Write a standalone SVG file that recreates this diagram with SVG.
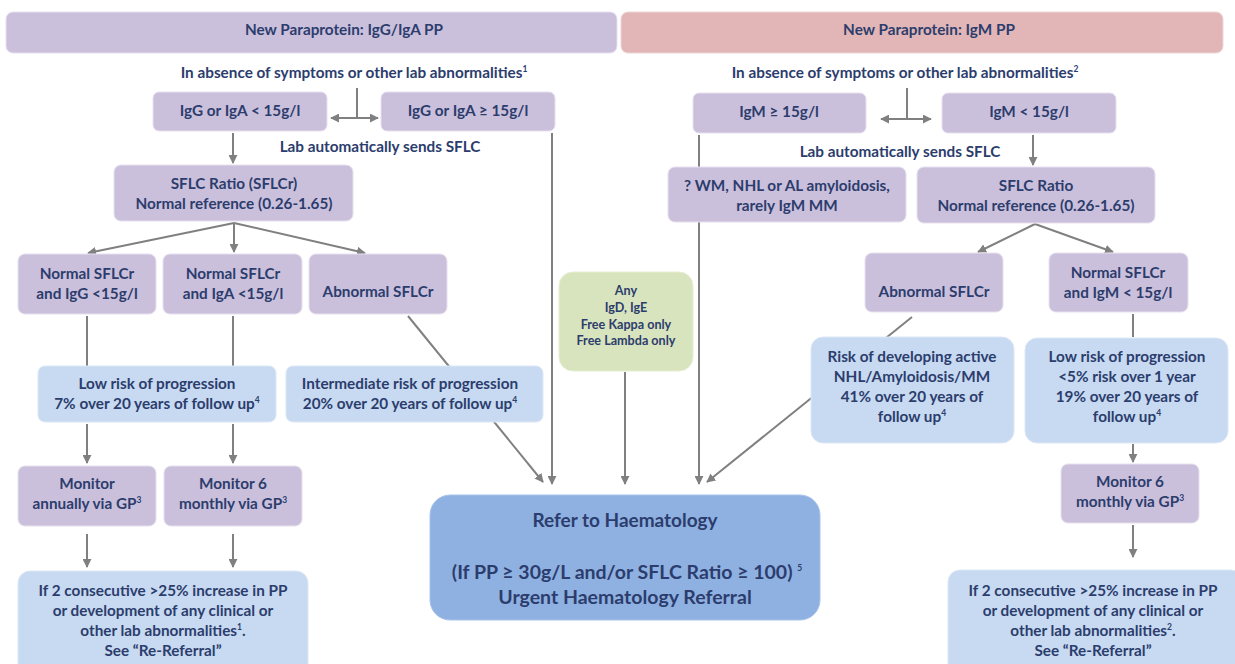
<svg xmlns="http://www.w3.org/2000/svg" width="1235" height="664" viewBox="0 0 1235 664">
<style>
.p{fill:#cbc0dc;stroke:#e6e0ef;stroke-width:1}
.k{fill:#e2b6b6;stroke:#eed6d6;stroke-width:1}
.b{fill:#c7daf1;stroke:#dde8f6;stroke-width:1}
.g{fill:#d8e4bd;stroke:#e6eed3;stroke-width:1}
.r{fill:#8fb1e2;stroke:#a9c3ea;stroke-width:1}
text{font-family:Lato,"Open Sans","Liberation Sans",sans-serif;font-weight:bold;font-size:15.3px;fill:#2c3d6d;text-anchor:middle}
.s{font-size:12.6px}
.big{font-size:19px}
.mid{font-size:19.5px}
.c{stroke:#808080;stroke-width:2;fill:none}
.a{marker-end:url(#ah)}
.aa{marker-start:url(#ah);marker-end:url(#ah)}
</style>
<defs>
<marker id="ah" viewBox="0 0 10 10" refX="9" refY="5" markerWidth="9" markerHeight="9" markerUnits="userSpaceOnUse" orient="auto-start-reverse">
<path d="M0,0 L10,5 L0,10 z" fill="#808080"/>
</marker>
</defs>
<rect width="1235" height="664" fill="#ffffff"/>
<g id="connectors">
<line class="c" x1="357" y1="88" x2="357" y2="118"/>
<line class="c aa" x1="331" y1="118" x2="378" y2="118"/>
<line class="c a" x1="233" y1="133" x2="233" y2="163"/>
<line class="c a" x1="234" y1="223" x2="88" y2="253"/>
<line class="c a" x1="234" y1="223" x2="234" y2="252"/>
<line class="c a" x1="234" y1="223" x2="365" y2="253"/>
<line class="c" x1="87" y1="316" x2="87" y2="366"/>
<line class="c" x1="233" y1="316" x2="233" y2="366"/>
<line class="c a" x1="408" y1="316" x2="543" y2="482"/>
<line class="c a" x1="87" y1="424" x2="87" y2="463"/>
<line class="c a" x1="233" y1="424" x2="233" y2="463"/>
<line class="c a" x1="87" y1="534" x2="87" y2="567"/>
<line class="c a" x1="233" y1="534" x2="233" y2="567"/>
<line class="c a" x1="552" y1="133" x2="552" y2="484"/>
<line class="c a" x1="625" y1="372" x2="625" y2="484"/>
<line class="c a" x1="699" y1="135" x2="699" y2="484"/>
<line class="c a" x1="912" y1="317" x2="707" y2="482"/>
<line class="c" x1="907" y1="88" x2="907" y2="119"/>
<line class="c aa" x1="881" y1="119" x2="931" y2="119"/>
<line class="c a" x1="1033" y1="135" x2="1033" y2="165"/>
<line class="c a" x1="1035" y1="224" x2="978" y2="252"/>
<line class="c a" x1="1035" y1="224" x2="1113" y2="252"/>
<line class="c" x1="1133" y1="314" x2="1133" y2="337"/>
<line class="c a" x1="1133" y1="444" x2="1133" y2="462"/>
<line class="c a" x1="1133" y1="525" x2="1133" y2="557"/>
</g>
<g id="top-igg"><rect class="p" x="6" y="12" width="611" height="41" rx="7"/><text x="344" y="35">New Paraprotein: IgG/IgA PP</text></g>
<g id="top-igm"><rect class="k" x="621" y="12" width="602" height="41" rx="7"/><text x="929" y="35">New Paraprotein: IgM PP</text></g>
<g id="label-absence-1"><text x="354" y="78">In absence of symptoms or other lab abnormalities<tspan font-size="8.5" dy="-6">1</tspan></text></g>
<g id="label-absence-2"><text x="905" y="78">In absence of symptoms or other lab abnormalities<tspan font-size="8.5" dy="-6">2</tspan></text></g>
<g id="igg-lt"><rect class="p" x="153" y="92" width="174" height="39" rx="6"/><text x="240" y="116">IgG or IgA &lt; 15g/l</text></g>
<g id="igg-ge"><rect class="p" x="381" y="92" width="174" height="39" rx="6"/><text x="468" y="116">IgG or IgA ≥ 15g/l</text></g>
<g id="label-lab-1"><text x="380" y="152">Lab automatically sends SFLC</text></g>
<g id="sflc-left"><rect class="p" x="114" y="165" width="239" height="56" rx="7"/><text x="234" y="189">SFLC Ratio (SFLCr)</text><text x="234" y="209">Normal reference (0.26-1.65)</text></g>
<g id="normal-igg"><rect class="p" x="18" y="254" width="138" height="60" rx="7"/><text x="87" y="279">Normal SFLCr</text><text x="87" y="299">and IgG &lt;15g/l</text></g>
<g id="normal-iga"><rect class="p" x="163" y="254" width="139" height="60" rx="7"/><text x="233" y="279">Normal SFLCr</text><text x="233" y="299">and IgA &lt;15g/l</text></g>
<g id="abnormal-left"><rect class="p" x="309" y="254" width="138" height="60" rx="7"/><text x="378" y="297">Abnormal SFLCr</text></g>
<g id="low-risk-left"><rect class="b" x="38" y="366" width="238" height="56" rx="7"/><text x="157" y="389">Low risk of progression</text><text x="157" y="409">7% over 20 years of follow up<tspan font-size="8.5" dy="-6">4</tspan></text></g>
<g id="intermediate-risk"><rect class="b" x="286" y="366" width="257" height="56" rx="7"/><text x="410" y="389">Intermediate risk of progression</text><text x="410" y="409">20% over 20 years of follow up<tspan font-size="8.5" dy="-6">4</tspan></text></g>
<g id="monitor-annual"><rect class="p" x="18" y="466" width="138" height="60" rx="7"/><text x="87" y="489">Monitor</text><text x="87" y="509">annually via GP<tspan font-size="8.5" dy="-6">3</tspan></text></g>
<g id="monitor-6-left"><rect class="p" x="164" y="466" width="138" height="60" rx="7"/><text x="233" y="489">Monitor 6</text><text x="233" y="509">monthly via GP<tspan font-size="8.5" dy="-6">3</tspan></text></g>
<g id="rereferral-left"><rect class="b" x="18" y="571" width="290" height="110" rx="12"/><text x="163" y="596">If 2 consecutive &gt;25% increase in PP</text><text x="163" y="616">or development of any clinical or</text><text x="163" y="636">other lab abnormalities<tspan font-size="8.5" dy="-6">1</tspan><tspan dy="6">.</tspan></text><text x="163" y="656">See “Re-Referral”</text></g>
<g id="other-types"><rect class="g" x="559" y="272" width="134" height="99" rx="14"/><text class="s" x="626" y="295">Any</text><text class="s" x="626" y="312">IgD, IgE</text><text class="s" x="626" y="329">Free Kappa only</text><text class="s" x="626" y="345">Free Lambda only</text></g>
<g id="refer-haematology"><rect class="r" x="430" y="495" width="390" height="125" rx="20"/><text class="big" x="625" y="527">Refer to Haematology</text><text class="mid" x="627" y="579">(If PP ≥ 30g/L and/or SFLC Ratio ≥ 100) <tspan font-size="8.5" dy="-8">5</tspan></text><text class="mid" x="625" y="604">Urgent Haematology Referral</text></g>
<g id="igm-ge"><rect class="p" x="693" y="93" width="173" height="40" rx="6"/><text x="779" y="117">IgM ≥ 15g/l</text></g>
<g id="igm-lt"><rect class="p" x="942" y="93" width="174" height="40" rx="6"/><text x="1029" y="117">IgM &lt; 15g/l</text></g>
<g id="label-lab-2"><text x="900" y="157">Lab automatically sends SFLC</text></g>
<g id="wm-nhl"><rect class="p" x="668" y="167" width="238" height="55" rx="7"/><text x="787" y="191">? WM, NHL or AL amyloidosis,</text><text x="787" y="211">rarely IgM MM</text></g>
<g id="sflc-right"><rect class="p" x="917" y="167" width="238" height="56" rx="7"/><text x="1036" y="191">SFLC Ratio</text><text x="1036" y="211">Normal reference (0.26-1.65)</text></g>
<g id="abnormal-right"><rect class="p" x="865" y="253" width="138" height="59" rx="7"/><text x="934" y="297">Abnormal SFLCr</text></g>
<g id="normal-igm"><rect class="p" x="1049" y="253" width="139" height="59" rx="7"/><text x="1118" y="278">Normal SFLCr</text><text x="1118" y="298">and IgM &lt; 15g/l</text></g>
<g id="risk-active"><rect class="b" x="811" y="337" width="203" height="106" rx="12"/><text x="912" y="362">Risk of developing active</text><text x="912" y="382">NHL/Amyloidosis/MM</text><text x="912" y="402">41% over 20 years of</text><text x="912" y="422">follow up<tspan font-size="8.5" dy="-6">4</tspan></text></g>
<g id="low-risk-right"><rect class="b" x="1025" y="338" width="203" height="105" rx="12"/><text x="1127" y="362">Low risk of progression</text><text x="1127" y="382">&lt;5% risk over 1 year</text><text x="1127" y="402">19% over 20 years of</text><text x="1127" y="422">follow up<tspan font-size="8.5" dy="-6">4</tspan></text></g>
<g id="monitor-6-right"><rect class="p" x="1061" y="464" width="138" height="59" rx="7"/><text x="1130" y="487">Monitor 6</text><text x="1130" y="507">monthly via GP<tspan font-size="8.5" dy="-6">3</tspan></text></g>
<g id="rereferral-right"><rect class="b" x="948" y="570" width="295" height="110" rx="12"/><text x="1093" y="596">If 2 consecutive &gt;25% increase in PP</text><text x="1093" y="616">or development of any clinical or</text><text x="1093" y="636">other lab abnormalities<tspan font-size="8.5" dy="-6">2</tspan><tspan dy="6">.</tspan></text><text x="1093" y="656">See “Re-Referral”</text></g>
</svg>
